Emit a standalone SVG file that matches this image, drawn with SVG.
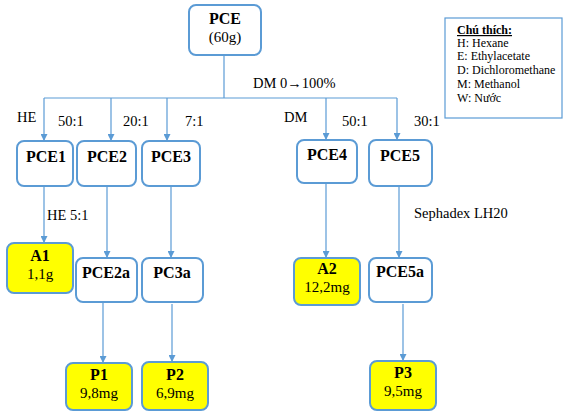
<svg xmlns="http://www.w3.org/2000/svg" width="564" height="411" viewBox="0 0 564 411">
<defs>
<style>
.box{fill:#fff;stroke:#5B9BD5;stroke-width:2}
.yel{fill:#FFFF00;stroke:#5B9BD5;stroke-width:2}
.t{font-family:"Liberation Serif","Times New Roman",serif;fill:#000}
.b{font-weight:bold;font-size:16px;text-anchor:middle}
.r{font-size:15px;text-anchor:middle}
.lbl{font-size:14.5px}
.lg{font-size:12px}
.c{stroke:#5B9BD5;stroke-width:1.2;fill:none}
.ca{stroke:#5B9BD5;stroke-width:1.2;fill:none;marker-end:url(#ah)}
</style>
<marker id="ah" viewBox="0 0 10 10" refX="10" refY="5" markerWidth="7" markerHeight="7" markerUnits="userSpaceOnUse" orient="auto">
<path d="M0,0 L10,5 L0,10 z" fill="#5B9BD5"/>
</marker>
</defs>
<rect width="564" height="411" fill="#fff"/>

<g id="connectors">
<line class="c" x1="224" y1="55" x2="224" y2="98"/>
<line class="c" x1="44" y1="98" x2="397" y2="98"/>
<line class="ca" x1="44" y1="98" x2="44" y2="141"/>
<line class="ca" x1="111" y1="98" x2="111" y2="141"/>
<line class="ca" x1="167" y1="98" x2="167" y2="141"/>
<line class="ca" x1="326" y1="98" x2="326" y2="140"/>
<line class="ca" x1="397" y1="98" x2="397" y2="140"/>
<line class="ca" x1="44" y1="186" x2="44" y2="243"/>
<line class="ca" x1="107" y1="186" x2="107" y2="258"/>
<line class="ca" x1="171" y1="186" x2="171" y2="258"/>
<line class="ca" x1="326" y1="183" x2="326" y2="258"/>
<line class="ca" x1="399" y1="186" x2="399" y2="258"/>
<line class="ca" x1="103" y1="302" x2="103" y2="363"/>
<line class="ca" x1="172" y1="304" x2="172" y2="362"/>
<line class="ca" x1="403" y1="304" x2="403" y2="361"/>
</g>

<g id="labels" class="t lbl">
<text x="253" y="88">DM 0→100%</text>
<text x="17" y="122">HE</text>
<text x="58" y="126">50:1</text>
<text x="123" y="126">20:1</text>
<text x="185" y="126">7:1</text>
<text x="284" y="122">DM</text>
<text x="342" y="126">50:1</text>
<text x="414" y="126">30:1</text>
<text x="47" y="220">HE 5:1</text>
<text x="414" y="218">Sephadex LH20</text>
</g>

<g id="legend">
<rect x="445" y="18" width="117" height="100" fill="#fff" stroke="#5B9BD5" stroke-width="1.2"/>
<text class="t lg" x="457" y="34" font-weight="bold" text-decoration="underline">Chú thích:</text>
<text class="t lg" x="457" y="47">H: Hexane</text>
<text class="t lg" x="457" y="60">E: Ethylacetate</text>
<text class="t lg" x="457" y="74">D: Dichloromethane</text>
<text class="t lg" x="457" y="88">M: Methanol</text>
<text class="t lg" x="457" y="102">W: Nước</text>
</g>

<g id="PCE"><rect class="box" x="189" y="5" width="72" height="50" rx="7"/>
<text class="t b" x="225" y="24">PCE</text><text class="t r" x="225" y="42">(60g)</text></g>

<g id="PCE1"><rect class="box" x="17" y="141" width="56" height="45" rx="7"/><text class="t b" x="46" y="162">PCE1</text></g>
<g id="PCE2"><rect class="box" x="77" y="141" width="59" height="45" rx="7"/><text class="t b" x="107" y="162">PCE2</text></g>
<g id="PCE3"><rect class="box" x="142" y="141" width="58" height="45" rx="7"/><text class="t b" x="171" y="162">PCE3</text></g>
<g id="PCE4"><rect class="box" x="297" y="140" width="60" height="43" rx="7"/><text class="t b" x="327" y="160">PCE4</text></g>
<g id="PCE5"><rect class="box" x="369" y="140" width="63" height="46" rx="7"/><text class="t b" x="400" y="161">PCE5</text></g>

<g id="A1"><rect class="yel" x="7" y="243" width="66" height="50" rx="7"/>
<text class="t b" x="40" y="261">A1</text><text class="t r" x="40" y="279">1,1g</text></g>
<g id="PCE2a"><rect class="box" x="76" y="258" width="61" height="44" rx="7"/><text class="t b" x="106" y="278">PCE2a</text></g>
<g id="PC3a"><rect class="box" x="142" y="258" width="61" height="44" rx="7"/><text class="t b" x="172" y="278">PC3a</text></g>
<g id="A2"><rect class="yel" x="294" y="258" width="66" height="47" rx="7"/>
<text class="t b" x="327" y="274">A2</text><text class="t r" x="327" y="292">12,2mg</text></g>
<g id="PCE5a"><rect class="box" x="369" y="258" width="63" height="44" rx="7"/><text class="t b" x="400" y="277">PCE5a</text></g>

<g id="P1"><rect class="yel" x="66" y="363" width="66" height="47" rx="7"/>
<text class="t b" x="99" y="380">P1</text><text class="t r" x="99" y="398">9,8mg</text></g>
<g id="P2"><rect class="yel" x="142" y="362" width="66" height="48" rx="7"/>
<text class="t b" x="175" y="380">P2</text><text class="t r" x="175" y="398">6,9mg</text></g>
<g id="P3"><rect class="yel" x="370" y="361" width="66" height="49" rx="7"/>
<text class="t b" x="403" y="378">P3</text><text class="t r" x="403" y="396">9,5mg</text></g>
</svg>
